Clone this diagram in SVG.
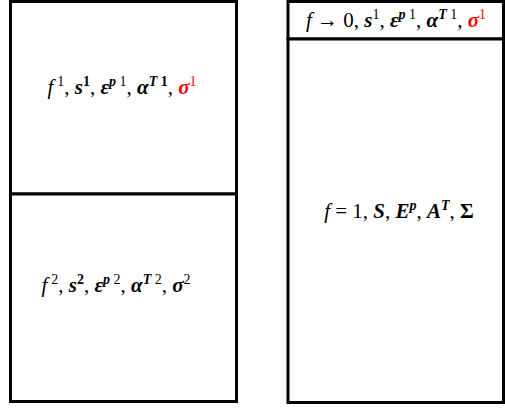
<svg xmlns="http://www.w3.org/2000/svg" width="505" height="410" viewBox="0 0 505 410">
<style>
.box{fill:#fff;stroke:#000;stroke-width:3}
.t{font-family:"Liberation Serif","DejaVu Serif",serif;font-size:21px;fill:#000}
.i{font-style:italic}
.bi{font-style:italic;font-weight:bold}
.b{font-weight:bold}
.s{font-size:14px}
.r{fill:#ff0000}
</style>
<rect width="505" height="410" fill="#fff"/>
<g id="left-top">
<rect class="box" x="10.5" y="1.5" width="226" height="192.5"/>
<text class="t" x="122" y="94" text-anchor="middle"><tspan class="i">f</tspan><tspan class="s" dx="4" dy="-8">1</tspan><tspan dy="8">, </tspan><tspan class="bi">s</tspan><tspan class="s b" dy="-8">1</tspan><tspan dy="8">, </tspan><tspan class="bi">ε</tspan><tspan class="s bi" dy="-8">p</tspan><tspan class="s"> 1</tspan><tspan dy="8">, </tspan><tspan class="bi">α</tspan><tspan class="s bi" dy="-8">T</tspan><tspan class="s b"> 1</tspan><tspan dy="8">, </tspan><tspan class="bi r">σ</tspan><tspan class="s r" dy="-8">1</tspan></text>
</g>
<g id="left-bottom">
<rect class="box" x="10.5" y="194" width="226" height="207.5"/>
<text class="t" x="116" y="292" text-anchor="middle"><tspan class="i">f</tspan><tspan class="s" dx="4" dy="-8">2</tspan><tspan dy="8">, </tspan><tspan class="bi">s</tspan><tspan class="s b" dy="-8">2</tspan><tspan dy="8">, </tspan><tspan class="bi">ε</tspan><tspan class="s bi" dy="-8">p</tspan><tspan class="s"> 2</tspan><tspan dy="8">, </tspan><tspan class="bi">α</tspan><tspan class="s bi" dy="-8">T</tspan><tspan class="s"> 2</tspan><tspan dy="8">, </tspan><tspan class="bi">σ</tspan><tspan class="s" dy="-8">2</tspan></text>
</g>
<g id="right-top">
<rect class="box" x="288" y="1.5" width="215.5" height="37.5"/>
<text class="t" x="396" y="27" text-anchor="middle"><tspan class="i">f</tspan><tspan> → 0, </tspan><tspan class="bi">s</tspan><tspan class="s" dy="-8">1</tspan><tspan dy="8">, </tspan><tspan class="bi">ε</tspan><tspan class="s bi" dy="-8">p</tspan><tspan class="s"> 1</tspan><tspan dy="8">, </tspan><tspan class="bi">α</tspan><tspan class="s bi" dy="-8">T</tspan><tspan class="s"> 1</tspan><tspan dy="8">, </tspan><tspan class="bi r">σ</tspan><tspan class="s r" dy="-8">1</tspan></text>
</g>
<g id="right-bottom">
<rect class="box" x="288" y="39" width="215.5" height="363.5"/>
<text class="t" x="399" y="218" text-anchor="middle"><tspan class="i">f</tspan><tspan>  =  1, </tspan><tspan class="bi">S</tspan><tspan>, </tspan><tspan class="bi">E</tspan><tspan class="s bi" dy="-8">p</tspan><tspan dy="8">, </tspan><tspan class="bi">A</tspan><tspan class="s bi" dy="-8">T</tspan><tspan dy="8">, </tspan><tspan class="b">Σ</tspan></text>
</g>
<g id="connectors"></g>
</svg>
